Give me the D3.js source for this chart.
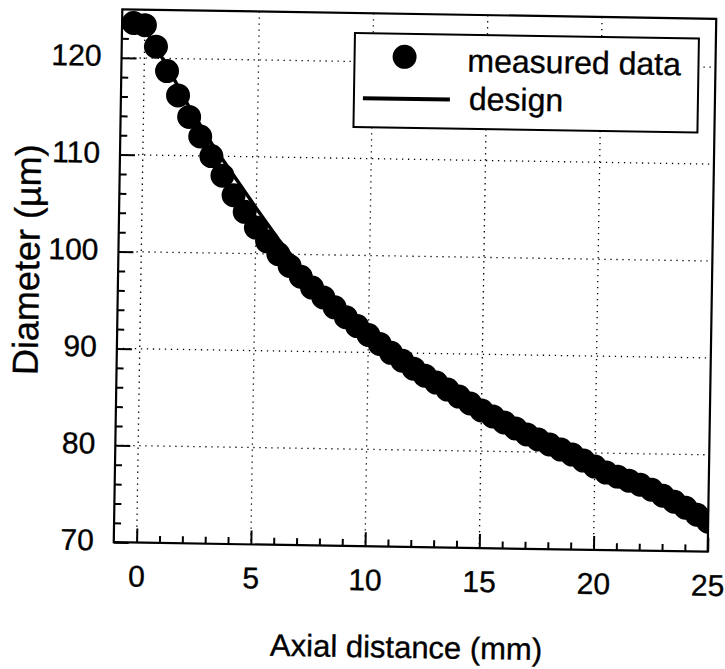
<!DOCTYPE html>
<html>
<head>
<meta charset="utf-8">
<script src="https://cdn.jsdelivr.net/npm/d3@7"></script>
<style>
  body { margin: 0; background: #fff; }
  text { font-family: "Liberation Sans", Arial, sans-serif; fill: #000; stroke: #000; stroke-width: 0.35; }
</style>
</head>
<body>
<div id="chart"></div>
<script>
// measured taper profile (circles) and design curve (line)
const measuredX = [-0.5, 0, 0.5, 1, 1.5, 2, 2.5, 3, 3.5, 4, 4.5, 5, 5.5, 6, 6.5, 7, 7.5, 8, 8.5, 9, 9.5,
    10, 10.5, 11, 11.5, 12, 12.5, 13, 13.5, 14, 14.5, 15, 15.5, 16, 16.5, 17, 17.5, 18, 18.5, 19, 19.5,
    20, 20.5, 21, 21.5, 22, 22.5, 23, 23.5, 24, 24.5, 25];
const measuredD = [123.6, 123.4, 121.2, 118.7, 116.2, 114.0, 112.0, 110.0, 108.0, 106.0, 104.3, 102.7, 101.3, 100.0, 98.8, 97.7, 96.6, 95.6, 94.6, 93.6, 92.7,
    91.8, 90.9, 90.0, 89.2, 88.4, 87.7, 87.0, 86.3, 85.6, 84.9, 84.2, 83.6, 83.0, 82.4, 81.8, 81.3, 80.8, 80.3, 79.8, 79.2,
    78.6, 78.0, 77.6, 77.2, 76.8, 76.3, 75.7, 75.1, 74.5, 73.8, 73.1];

const designX = [0, 1, 2, 3, 4, 5, 6, 7, 8, 9, 10, 11, 12, 13, 14, 15, 16, 17, 18, 19, 20, 21, 22, 23, 24, 25];
const designD = [123.0, 119.2, 115.0, 111.3, 108.0, 104.7, 101.5, 98.7, 96.3, 94.2, 92.4, 90.7, 89.1, 87.6, 86.2, 84.9,
    83.7, 82.5, 81.4, 80.3, 79.3, 78.3, 77.4, 76.5, 75.4, 74.2];

const xTicks = [0, 5, 10, 15, 20, 25];
const xMinor = [1, 2, 3, 4, 6, 7, 8, 9, 11, 12, 13, 14, 16, 17, 18, 19, 21, 22, 23, 24];
const yTicks = [70, 80, 90, 100, 110, 120];
const yMinor = [72, 74, 76, 78, 82, 84, 86, 88, 92, 94, 96, 98, 102, 104, 106, 108, 112, 114, 116, 118, 122, 124];
const xGrid = [0, 5, 10, 15, 20];
const yGrid = [80, 90, 100, 110, 120];

const width = 725, height = 669;
const plotLeft = 118, plotRight = 712, plotTop = 14, plotBottom = 547;

const svg = d3.select('#chart').append('svg')
    .attr('width', width)
    .attr('height', height);

// the scanned figure is tilted a little clockwise
const g = svg.append('g').attr('transform', 'rotate(0.92, 415, 280.5)');

const x = d3.scaleLinear().domain([-1, 25]).range([plotLeft, plotRight]);
const y = d3.scaleLinear().domain([70, 125]).range([plotBottom, plotTop]);

svg.append('defs').append('clipPath').attr('id', 'plot-clip')
    .append('rect')
    .attr('x', plotLeft).attr('y', plotTop)
    .attr('width', plotRight - plotLeft).attr('height', plotBottom - plotTop);

// dotted grid
g.append('g').selectAll('line')
    .data(xGrid)
    .join('line')
    .attr('x1', d => x(d)).attr('x2', d => x(d))
    .attr('y1', plotTop).attr('y2', plotBottom)
    .attr('stroke', '#000')
    .attr('stroke-width', 1.3)
    .attr('stroke-dasharray', '1.3,4.7');

g.append('g').selectAll('line')
    .data(yGrid)
    .join('line')
    .attr('x1', plotLeft).attr('x2', plotRight)
    .attr('y1', d => y(d)).attr('y2', d => y(d))
    .attr('stroke', '#000')
    .attr('stroke-width', 1.3)
    .attr('stroke-dasharray', '1.3,4.7');

// axes: ticks point inward
const xAxis = g.append('g').attr('transform', `translate(0, ${plotBottom})`);
xAxis.append('g').call(d3.axisBottom(x).tickValues(xMinor).tickSize(-7).tickFormat(''));
xAxis.append('g').call(d3.axisBottom(x).tickValues(xTicks).tickSize(-14).tickFormat(d3.format('d')));
xAxis.selectAll('.domain').remove();
xAxis.selectAll('line').attr('stroke', '#000').attr('stroke-width', 2);
xAxis.selectAll('text')
    .attr('y', 44).attr('dy', null)
    .style('font-size', '30px');

const yAxis = g.append('g').attr('transform', `translate(${plotLeft}, 0)`);
yAxis.append('g').call(d3.axisLeft(y).tickValues(yMinor).tickSize(-7).tickFormat(''));
yAxis.append('g').call(d3.axisLeft(y).tickValues(yTicks).tickSize(-15).tickFormat(d3.format('d')));
yAxis.selectAll('.domain').remove();
yAxis.selectAll('line').attr('stroke', '#000').attr('stroke-width', 2);
yAxis.selectAll('text')
    .attr('x', -20).attr('dy', null).attr('y', 8)
    .style('font-size', '30px');

// design curve
const line = d3.line()
    .x((d, i) => x(designX[i]))
    .y(d => y(d));

const plot = g.append('g').attr('clip-path', 'url(#plot-clip)');

plot.append('path')
    .datum(designD)
    .attr('d', line)
    .attr('fill', 'none')
    .attr('stroke', '#000')
    .attr('stroke-width', 3.5);

// measured points
plot.append('g').selectAll('circle')
    .data(measuredD)
    .join('circle')
    .attr('cx', (d, i) => x(measuredX[i]))
    .attr('cy', d => y(d))
    .attr('r', 12)
    .attr('fill', '#000');

// frame
g.append('rect')
    .attr('x', plotLeft).attr('y', plotTop)
    .attr('width', plotRight - plotLeft).attr('height', plotBottom - plotTop)
    .attr('fill', 'none')
    .attr('stroke', '#000')
    .attr('stroke-width', 2.2);

// legend
const legend = g.append('g');
legend.append('rect')
    .attr('x', 351).attr('y', 34)
    .attr('width', 344).attr('height', 94)
    .attr('fill', '#fff')
    .attr('stroke', '#000')
    .attr('stroke-width', 2);
legend.append('circle')
    .attr('cx', 401).attr('cy', 57).attr('r', 12)
    .attr('fill', '#000');
legend.append('line')
    .attr('x1', 360).attr('x2', 447)
    .attr('y1', 99).attr('y2', 99)
    .attr('stroke', '#000')
    .attr('stroke-width', 4);
legend.append('text')
    .attr('x', 464).attr('y', 71)
    .style('font-size', '32px')
    .text('measured data');
legend.append('text')
    .attr('x', 466).attr('y', 109)
    .style('font-size', '32px')
    .text('design');

// axis titles
g.append('text')
    .attr('x', 412).attr('y', 658)
    .attr('text-anchor', 'middle')
    .style('font-size', '31px')
    .text('Axial distance (mm)');

g.append('text')
    .attr('transform', 'translate(39, 266) rotate(-90)')
    .attr('text-anchor', 'middle')
    .style('font-size', '36px')
    .text('Diameter (µm)');
</script>
</body>
</html>
